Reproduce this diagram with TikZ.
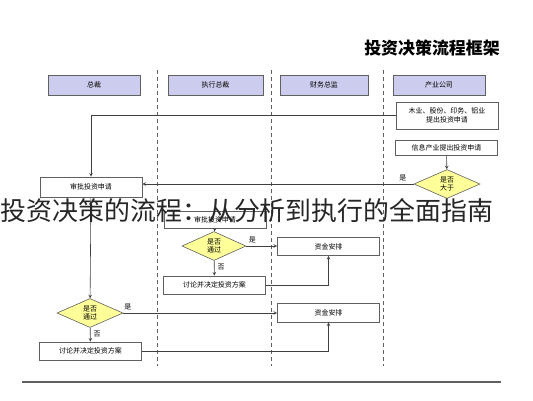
\documentclass[tikz,border=0pt]{standalone}
\usepackage{fontspec}
\setmainfont{Noto Sans CJK SC}
\usepackage{xcolor}
\usetikzlibrary{shapes.geometric}

\definecolor{headfill}{RGB}{204,204,238}
\definecolor{decfill}{RGB}{255,255,153}
\definecolor{edge}{RGB}{96,96,96}

\begin{document}
\begin{tikzpicture}[
    x=1bp, y=-1bp,
    head/.style={
        draw=edge,
        line width=0.8pt,
        fill=headfill,
        minimum width=92bp,
        minimum height=20bp,
        font=\fontsize{7}{8}\selectfont,
    },
    box/.style={
        draw=edge,
        line width=0.8pt,
        fill=white,
        minimum width=102bp,
        minimum height=18bp,
        align=center,
        font=\fontsize{7}{9}\selectfont,
    },
    decision/.style={
        diamond,
        draw=edge,
        line width=0.6pt,
        fill=decfill,
        aspect=2.3,
        inner sep=1pt,
        minimum width=66bp,
        minimum height=29bp,
        align=center,
        font=\fontsize{7}{8}\selectfont,
    },
    lane/.style={draw=edge, line width=0.5pt, dash pattern=on 4bp off 3bp},
    arrow/.style={->, >=stealth, draw=black!75, line width=0.6pt},
    tag/.style={font=\fontsize{7}{8}\selectfont, inner sep=1pt},
]
\useasboundingbox (0,0) rectangle (533,400);

% ----- Title -----
\node[font=\bfseries\fontsize{17}{17}\selectfont] (title) at (432,48) {投资决策流程框架};

% ----- Lane headers -----
\node[head] (president) at (94,85) {总裁};
\node[head, minimum width=95bp] (ceo) at (215.5,85) {执行总裁};
\node[head, minimum width=88bp] (cfo) at (324,85) {财务总监};
\node[head] (company) at (439,85) {产业公司};

% ----- Lane separators -----
\foreach \x in {157,271,383}
    \draw[lane] (\x,70) -- (\x,366);

% ----- Nodes -----
\node[box, minimum height=27bp] (apply1) at (447,115.5) {木业、股份、印务、铝业\\提出投资申请};
\node[box, minimum height=15bp] (apply2) at (446.5,148) {信息产业提出投资申请};
\node[decision] (bigger) at (447,184) {是否\\大于};
\node[box, minimum height=20bp] (review1) at (91,187) {审批投资申请};
\node[box, minimum height=17bp] (review2) at (215,220) {审批投资申请};
\node[decision, minimum width=64bp] (pass2) at (214,246) {是否\\通过};
\node[box] (fund1) at (328.5,246.5) {资金安排};
\node[box] (discuss1) at (214.5,285) {讨论并决定投资方案};
\node[decision] (pass1) at (90,313) {是否\\通过};
\node[box, minimum height=19bp] (fund2) at (328.5,312.5) {资金安排};
\node[box] (discuss2) at (90.5,351) {讨论并决定投资方案};

% ----- Arrows -----
\draw[arrow] (apply1.west) -| (review1.north);
\draw[arrow] (apply2) -- (bigger);
\draw[arrow] (bigger.west) -- (bigger.west -| review1.east)
    node[tag, pos=0.04, above=2bp] {是};
\draw[arrow] (review1) -- (pass1);
\draw[arrow] (review2) -- (pass2);
\draw[arrow] (pass2.east) -- (pass2.east -| fund1.west)
    node[tag, pos=0.2, above=2bp] {是};
\draw[arrow] (pass2) -- (discuss1)
    node[tag, pos=0.45, right=2bp] {否};
\draw[arrow] (discuss1.east) -| (fund1.south);
\draw[arrow] (pass1.east) -- (pass1.east -| fund2.west)
    node[tag, pos=0.03, above=2bp] {是};
\draw[arrow] (pass1) -- (discuss2)
    node[tag, pos=0.45, right=2bp] {否};
\draw[arrow] (discuss2.east) -| (fund2.south);

% ----- Bottom rule -----
\draw[edge, line width=1.2pt] (22,382) -- (501,382);

% ----- Caption over the chart -----
\node[font=\fontsize{26}{26}\selectfont, text=black!85, inner sep=0pt] (caption) at (247,211) {投资决策的流程：从分析到执行的全面指南};

\end{tikzpicture}
\end{document}
